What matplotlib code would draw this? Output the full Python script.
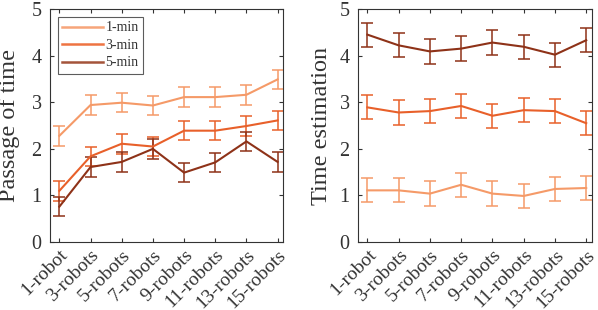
import matplotlib
matplotlib.use("Agg")
import matplotlib.pyplot as plt
from matplotlib.lines import Line2D
from matplotlib.transforms import ScaledTranslation
import numpy as np

categories = ["1-robot", "3-robots", "5-robots", "7-robots", "9-robots", "11-robots", "13-robots", "15-robots"]
series_names = ["1-min", "3-min", "5-min"]

# Left panel: Passage of time
pot_1min = [2.28, 2.94, 2.99, 2.93, 3.11, 3.11, 3.16, 3.49]
pot_3min = [1.10, 1.84, 2.11, 2.05, 2.39, 2.39, 2.49, 2.61]
pot_5min = [0.76, 1.61, 1.72, 2.00, 1.49, 1.71, 2.16, 1.72]
pot_err_1min = [0.21, 0.21, 0.21, 0.21, 0.21, 0.21, 0.21, 0.21]
pot_err_3min = [0.21, 0.21, 0.21, 0.21, 0.21, 0.21, 0.21, 0.21]
pot_err_5min = [0.21, 0.21, 0.21, 0.21, 0.21, 0.21, 0.21, 0.21]

# Right panel: Time estimation
te_1min = [1.11, 1.11, 1.04, 1.23, 1.04, 0.99, 1.14, 1.16]
te_3min = [2.89, 2.78, 2.81, 2.92, 2.71, 2.83, 2.81, 2.55]
te_5min = [4.45, 4.22, 4.09, 4.15, 4.28, 4.19, 4.02, 4.33]
te_err_1min = [0.26, 0.26, 0.26, 0.26, 0.26, 0.26, 0.26, 0.26]
te_err_3min = [0.26, 0.26, 0.26, 0.26, 0.26, 0.26, 0.26, 0.26]
te_err_5min = [0.26, 0.26, 0.26, 0.26, 0.26, 0.26, 0.26, 0.26]

colors = ["#F59A68", "#E8602A", "#8E3218"]
legend_colors = ["#F7A57A", "#EE7442", "#A4543A"]
txt = '#333333'

plt.rcParams['font.family'] = ['Liberation Serif', 'DejaVu Serif']

fig = plt.figure(figsize=(5.98, 3.10), dpi=100)
ax1 = fig.add_axes([0.0836, 0.219, 0.390, 0.752])
ax2 = fig.add_axes([0.5987, 0.219, 0.391, 0.752])

x = np.arange(1, len(categories) + 1)

def draw(ax, ys, errs, ylabel, label_x, legend):
    for y, e, c, n in zip(ys, errs, colors, series_names):
        ax.errorbar(x, y, yerr=e, color=c, lw=1.5, capsize=4.5, capthick=1.1,
                    elinewidth=1.1, label=n)
    ax.set_xlim(0.7, 8.18)
    ax.set_ylim(0, 5)
    ax.set_xticks(x)
    labels = ax.set_xticklabels(categories, rotation=45, ha='right', rotation_mode='anchor',
                                fontsize=14, color=txt)
    shift = ScaledTranslation(7 / 100, 0, fig.dpi_scale_trans)
    for lab in labels:
        lab.set_transform(lab.get_transform() + shift)
    ax.set_yticks([0, 1, 2, 3, 4, 5])
    ax.set_yticklabels([str(v) for v in [0, 1, 2, 3, 4, 5]], fontsize=14.5, color=txt)
    ax.tick_params(direction='in', length=3, top=True, right=True, width=0.8, color=txt)
    ax.tick_params(axis='x', pad=3)
    ax.tick_params(axis='y', pad=6)
    for s in ax.spines.values():
        s.set_color(txt)
        s.set_linewidth(0.8)
    ax.set_ylabel(ylabel, fontsize=17.5, color=txt)
    ax.yaxis.set_label_coords(label_x, 0.5)
    if legend:
        handles = [Line2D([0], [0], color=c, lw=1.8) for c in legend_colors]
        leg = ax.legend(handles, series_names, loc='upper left', fontsize=10, frameon=True,
                        fancybox=False, edgecolor=txt, borderpad=0.3, handlelength=2.9,
                        labelspacing=0.32, handletextpad=0.2, borderaxespad=0.6)
        leg.get_frame().set_linewidth(0.8)
        for t in leg.get_texts():
            t.set_color(txt)

draw(ax1, [pot_1min, pot_3min, pot_5min], [pot_err_1min, pot_err_3min, pot_err_5min],
     "Passage of time", -0.129, True)
draw(ax2, [te_1min, te_3min, te_5min], [te_err_1min, te_err_3min, te_err_5min],
     "Time estimation", -0.111, False)

fig.savefig("out.png", dpi=100)
